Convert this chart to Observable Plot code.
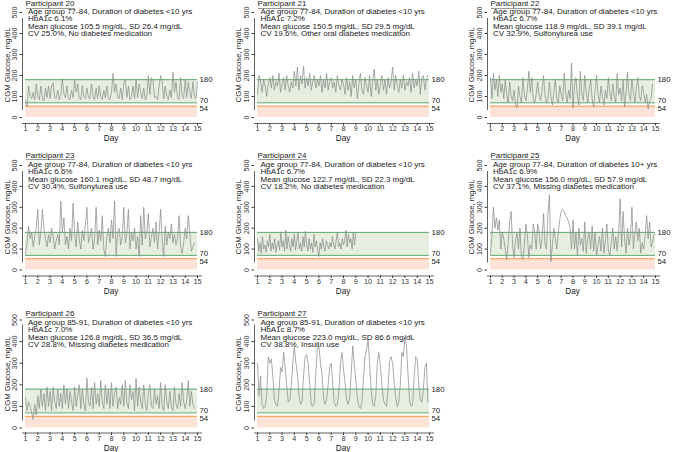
<!DOCTYPE html>
<html>
<head>
<meta charset="utf-8">
<script src="https://cdn.jsdelivr.net/npm/d3@7"></script>
<script src="https://cdn.jsdelivr.net/npm/@observablehq/plot@0.6"></script>
<style>
  html, body { margin: 0; padding: 0; background: #fff; }
  #root { position: relative; width: 675px; height: 452px; overflow: hidden; font-family: "Liberation Sans", Arial, sans-serif; color: #222; }
  .panel { position: absolute; }
  .panel svg { position: absolute; left: 0; top: 0; overflow: visible; }
  .info { position: absolute; font-size: 8px; line-height: 7.5px; white-space: nowrap; }
  .pt { position: absolute; font-size: 8px; line-height: 6.6px; white-space: nowrap; border-bottom: 0.8px solid #9a9a9a; padding-right: 1px; }
  .ytitle { position: absolute; font-size: 7.8px; white-space: nowrap; transform: translate(-50%, -50%) rotate(-90deg); }
  .xtitle { position: absolute; font-size: 8.2px; white-space: nowrap; transform: translate(-50%, -50%); }
</style>
</head>
<body>
<div id="root"></div>
<script>
// ---- tick labels & thresholds ----
const dayTicks = [1,2,3,4,5,6,7,8,9,10,11,12,13,14,15];
const glucoseTicks = [0,100,200,300,400,500];
const thresholds = [180, 70, 54];
const participants = [20,21,22,23,24,25,26,27];

const ageGroups = ["77-84","77-84","77-84","77-84","77-84","77-84","85-91","85-91"];
const durations = ["<10 yrs","<10 yrs","<10 yrs","<10 yrs","<10 yrs","10+ yrs","<10 yrs","<10 yrs"];
const hba1c = ["6.1%","7.2%","6.7%","6.6%","6.7%","6.9%","7.0%","8.7%"];
const meanGlucose = ["105.5","150.5","118.9","160.1","122.7","156.0","126.8","223.0"];
const sdGlucose = ["26.4","29.5","39.1","48.7","22.3","57.9","36.5","86.6"];
const cvGlucose = ["25.0%","19.6%","32.9%","30.4%","18.2%","37.1%","28.8%","38.8%"];
const medication = ["No diabetes medication","Other oral diabetes medication","Sulfonylurea use","Sulfonylurea use","No diabetes medication","Missing diabetes medication","Missing diabetes medication","Insulin use"];

// ---- CGM traces (values in mg/dL, sampled every `step` days from day 1) ----
const p20 = [80,50,150,100,90,120,85,160, 100,85,150,90,80,140,95,150, 90,150,165,95,90,130,85,110,
  185,110,95,150,90,85,130,95, 180,120,160,95,85,150,100,90, 140,95,90,160,100,85,140,90,
  150,100,85,130,95,150,90,85, 120,210,120,160,95,90,140,85, 165,180,95,150,85,100,150,90,
  180,95,160,120,90,140,85,100, 200,110,190,180,95,100,85,150, 200,170,90,150,100,85,130,95,
  215,120,170,95,85,190,100,90, 180,95,170,120,90,170,100,90, 170];
const p21 = [110,200,170,120,180,150,100,160, 190,140,200,130,170,150,210,120, 160,190,130,200,150,120,170,140,
  220,150,240,130,200,160,245,140, 190,150,210,130,170,200,140,180, 150,200,120,180,140,210,130,170,
  190,140,170,120,200,150,130,180, 160,110,190,130,170,100,200,140, 180,90,160,210,130,110,190,150,
  120,200,100,170,230,130,180,110, 160,200,130,180,110,190,140,170, 240,130,200,150,120,180,140,200,
  130,170,150,190,120,210,140,180, 150,220,110,190,200,130,180,200];
const p22 = [190,90,210,130,180,100,200,120, 160,90,180,110,70,170,100,80, 130,60,45,150,100,70,190,110,
  80,130,220,120,190,90,70,110, 170,100,80,130,200,110,70,90, 170,100,60,120,180,90,70,150,
  110,80,210,120,70,130,90,260, 45,150,190,100,60,220,110,80, 200,120,70,140,180,90,50,130,
  200,110,70,150,100,60,130,90, 190,120,80,160,100,70,210,110, 140,80,180,50,120,215,110,80,
  180,120,70,140,190,100,80,150, 120,70,110,40,80,90,160];
const p23 = [80,130,210,150,180,110,160,200, 290,120,180,290,200,150,110,170, 130,200,160,100,140,170,120,330,
  180,250,120,160,100,200,140,320, 170,110,230,150,100,190,140,220, 300,130,160,200,100,150,300,120,
  190,140,260,100,65,160,200,130, 240,150,330,65,180,200,120,160, 300,130,170,290,100,180,140,200,
  100,160,65,260,120,300,150,180, 270,110,160,200,130,230,100,180, 290,140,65,210,120,180,150,220,
  130,170,120,150,260,110,80,130, 200,150,260,180,90,110,130];
const p24 = [150,90,130,80,160,100,120,85,140,110, 170,90,130,100,150,85,120,140,95,180,
  110,140,90,190,100,160,120,90,150,110, 170,95,140,180,100,130,90,160,110,185,
  120,90,150,100,130,85,170,110,140,95, 65,130,100,150,110,90,140,120,100,130,
  110,160,120,100,140,180,110,130,100,150, 120,140,190,110,170,130,150,100,180,120, 175];
const p25 = [80,170,300,200,250,190,240,100, 180,150,100,50,130,230,280,120, 60,140,180,100,200,60,50,120,
  220,170,60,120,100,220,180,100, 220,180,100,150,270,120,100,270, 360,40,120,200,150,100,180,240,
  280,290,280,260,250,230,200,100, 240,100,180,70,200,120,150,90, 230,80,150,180,100,210,90,180,
  70,120,160,90,200,80,140,220, 90,70,130,200,100,160,90,180, 340,110,280,150,80,200,120,160,
  300,100,180,230,140,200,80,130, 100,170,260,150,230,110,130,170];
const p26 = [140,80,120,100,70,40,110,60, 150,90,180,100,160,80,190,100, 170,80,190,120,90,180,100,160,
  90,200,110,180,90,170,120,80, 190,100,150,200,90,180,110,80, 230,120,100,190,90,210,110,160,
  100,220,120,90,200,110,180,90, 210,100,160,190,90,140,110,200, 100,220,120,90,200,130,170,80,
  230,100,190,120,90,200,110,80, 160,200,100,90,180,110,150,90, 210,100,80,200,120,90,170,100,
  80,190,110,90,160,100,210,120, 90,130,220,100,170,110,90];
const p27 = [300,150,240,110,90,100,150,330, 300,320,240,130,110,100,170,280, 260,350,280,200,120,130,200,300,
  380,300,250,150,110,120,240,330, 340,300,200,110,100,120,260,370, 380,300,250,140,110,130,200,280,
  300,200,120,100,110,170,300,350, 270,210,130,110,140,250,380,300, 220,140,100,90,120,230,330,360,
  410,300,180,110,100,150,300,350, 290,200,130,110,100,180,310,330, 300,210,140,100,120,200,350,330,
  420,380,250,130,100,110,240,330, 320,200,130,120,180,280,300,120];
const traces = [p20,p21,p22,p23,p24,p25,p26,p27];
const steps = [0.125,0.125,0.125,0.125,0.1,0.125,0.125,0.125];

// ---- layout (styling only) ----
const cols = [
  {L: 0,   ml: 25, x15: 197, w: 228, ptX: 25.5, infoX: 28, ytX: 7.3},
  {L: 230, ml: 27, x15: 199, w: 228, ptX: 27.5, infoX: 30.5, ytX: 8},
  {L: 460, ml: 30, x15: 195, w: 215, ptX: 30.5, infoX: 33, ytX: 11}
];
const rows = [
  {T: 0,   y500: 12,   y0: 117,   h: 150, axDy: 6, ptTop: 1.1,  infoTop: 7.8,  dayY: 137.8},
  {T: 153, y500: 12,   y0: 116.5, h: 150, axDy: 6, ptTop: -0.2, infoTop: 7.8,  dayY: 138},
  {T: 307, y500: 12.5, y0: 120.5, h: 145, axDy: 5, ptTop: 3.8,  infoTop: 11.6, dayY: 140.5}
];

const GREEN = "#5aa96c", GREEN_FILL = "#e6efdf", PINK_FILL = "#fde3d7", ORANGE = "#f39a4a", TRACE = "#8e8e8e", AXIS = "#3a3a3a";
const labelDy = {180: 0, 70: -2, 54: 2.5};

const root = document.getElementById("root");

participants.forEach((pid, k) => {
  const col = cols[k % 3], row = rows[Math.floor(k / 3)];
  const data = traces[k].map((g, i) => ({t: 1 + i * steps[k], g}));
  const first = dayTicks[0], last = dayTicks[dayTicks.length - 1];
  const greenBand = [{x1: first, x2: last, y1: thresholds[1], y2: thresholds[0]}];
  const pinkBand = [{x1: first, x2: last, y1: 0, y2: thresholds[2]}];

  const chart = Plot.plot({
    width: col.w, height: row.h,
    marginLeft: col.ml, marginRight: col.w - col.x15,
    marginTop: row.y500, marginBottom: row.h - row.y0,
    x: {domain: [first, last], axis: null},
    y: {domain: [0, 500], axis: null},
    style: {fontFamily: '"Liberation Sans", Arial, sans-serif', fontSize: "7px", color: AXIS, background: "transparent", overflow: "visible"},
    marks: [
      Plot.rect(greenBand, {x1: "x1", x2: "x2", y1: "y1", y2: "y2", fill: GREEN_FILL}),
      Plot.rect(pinkBand, {x1: "x1", x2: "x2", y1: "y1", y2: "y2", fill: PINK_FILL}),
      Plot.ruleY([thresholds[0], thresholds[1]], {x1: first, x2: last, stroke: GREEN, strokeWidth: 1}),
      Plot.ruleY([thresholds[2]], {x1: first, x2: last, stroke: ORANGE, strokeWidth: 1}),
      Plot.line(data, {x: "t", y: "g", stroke: TRACE, strokeWidth: 0.75}),
      ...thresholds.map(th => Plot.text([th], {x: last, y: d => d, text: d => String(d), textAnchor: "start", dx: 2, dy: labelDy[th], fontSize: 7.8, fill: "#222"})),
      Plot.axisY({ticks: glucoseTicks, tickSize: 2.5, tickRotate: -90, dx: -3, tickPadding: 3, label: null, stroke: AXIS, fill: "#333", fontSize: 7.2}),
      Plot.ruleX([first], {y1: 0, y2: 500, dx: -3, insetTop: -7, insetBottom: -row.axDy, stroke: AXIS, strokeWidth: 0.8}),
      Plot.axisX({ticks: dayTicks, tickFormat: d => String(d), tickSize: 2.5, dy: row.axDy, tickPadding: 0, label: null, stroke: AXIS, fill: "#333", fontSize: 7.2}),
      Plot.ruleY([0], {x1: first, x2: last, dy: row.axDy, insetLeft: -3, insetRight: -5, stroke: AXIS, strokeWidth: 0.8})
    ]
  });

  const panel = document.createElement("div");
  panel.className = "panel";
  panel.style.left = col.L + "px";
  panel.style.top = row.T + "px";
  panel.style.width = col.w + "px";
  panel.style.height = row.h + "px";
  panel.appendChild(chart);

  const pt = document.createElement("div");
  pt.className = "pt";
  pt.style.left = col.ptX + "px";
  pt.style.top = row.ptTop + "px";
  pt.textContent = "Participant " + pid;
  panel.appendChild(pt);

  const info = document.createElement("div");
  info.className = "info";
  info.style.left = col.infoX + "px";
  info.style.top = row.infoTop + "px";
  info.innerHTML = [
    `Age group ${ageGroups[k]}, Duration of diabetes ${durations[k]}`,
    `HbA1c ${hba1c[k]}`,
    `Mean glucose ${meanGlucose[k]} mg/dL, SD ${sdGlucose[k]} mg/dL`,
    `CV ${cvGlucose[k]}, ${medication[k]}`
  ].map(s => s.replace(/&/g, "&amp;").replace(/</g, "&lt;")).join("<br>");
  panel.appendChild(info);

  const yt = document.createElement("div");
  yt.className = "ytitle";
  yt.style.left = col.ytX + "px";
  yt.style.top = ((row.y500 + row.y0) / 2) + "px";
  yt.textContent = "CGM Glucose, mg/dL";
  panel.appendChild(yt);

  const xt = document.createElement("div");
  xt.className = "xtitle";
  xt.style.left = ((col.ml + col.x15) / 2) + "px";
  xt.style.top = row.dayY + "px";
  xt.textContent = "Day";
  panel.appendChild(xt);

  root.appendChild(panel);
});
</script>
</body>
</html>
